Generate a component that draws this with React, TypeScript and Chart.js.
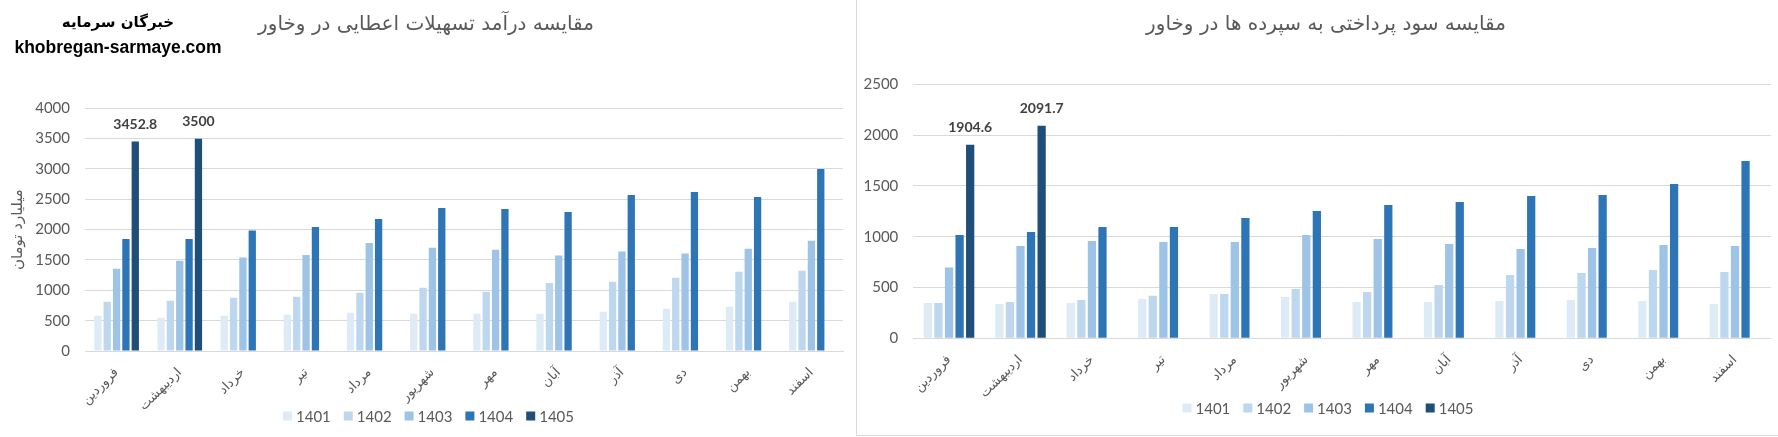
import { useEffect, useRef } from 'react';
import { Chart } from 'chart.js/auto';

const months = ['فروردین', 'اردیبهشت', 'خرداد', 'تیر', 'مرداد', 'شهریور', 'مهر', 'آبان', 'آذر', 'دی', 'بهمن', 'اسفند'];
const years = ['1401', '1402', '1403', '1404', '1405'];

// درآمد تسهیلات اعطایی (میلیارد تومان)
const loan1401 = [582, 550, 582, 599, 632, 615, 615, 615, 648, 698, 731, 813];
const loan1402 = [813, 830, 879, 896, 962, 1044, 978, 1121, 1143, 1209, 1308, 1324];
const loan1403 = [1357, 1489, 1539, 1583, 1780, 1703, 1670, 1572, 1638, 1605, 1687, 1819];
const loan1404 = [1846, 1846, 1984, 2044, 2176, 2357, 2341, 2291, 2572, 2621, 2539, 3000];
const loan1405 = [3452.8, 3500, null, null, null, null, null, null, null, null, null, null];

// سود پرداختی به سپرده ها
const dep1401 = [348, 338, 348, 387, 436, 407, 358, 358, 367, 377, 367, 338];
const dep1402 = [348, 358, 377, 420, 436, 486, 456, 525, 623, 643, 673, 653];
const dep1403 = [696, 909, 958, 948, 948, 1017, 978, 929, 879, 889, 919, 909];
const dep1404 = [1017, 1047, 1096, 1096, 1184, 1253, 1312, 1342, 1401, 1411, 1519, 1746];
const dep1405 = [1904.6, 2091.7, null, null, null, null, null, null, null, null, null, null];

const loanTicks = [0, 500, 1000, 1500, 2000, 2500, 3000, 3500, 4000];
const depTicks = [0, 500, 1000, 1500, 2000, 2500];

const yearColors = ['#DDEBF7', '#BDD7EE', '#9DC3E6', '#2E75B6', '#1F4E79'];
const gridColor = '#D9D9D9';
const textColor = '#595959';

// labels over the 1405 bars
const valueLabels = {
  id: 'valueLabels',
  afterDatasetsDraw(chart: any) {
    const { ctx } = chart;
    const last = chart.data.datasets.length - 1;
    const meta = chart.getDatasetMeta(last);
    const values = chart.data.datasets[last].data;
    ctx.save();
    ctx.font = 'bold 14px Lato';
    ctx.fillStyle = '#404040';
    ctx.textAlign = 'center';
    ctx.textBaseline = 'middle';
    meta.data.forEach((bar: any, i: number) => {
      const v = values[i];
      if (v == null) return;
      ctx.fillText(String(v), bar.x, bar.y - 17.5);
    });
    ctx.restore();
  },
};

// title and legend drawn at fixed spots, like the excel chart
const panelDecor = {
  id: 'panelDecor',
  afterDraw(chart: any, _args: any, opts: any) {
    const { ctx } = chart;
    ctx.save();
    ctx.fillStyle = textColor;
    ctx.font = '20px "DejaVu Sans"';
    ctx.textAlign = 'center';
    ctx.textBaseline = 'middle';
    ctx.fillText(opts.title, opts.titleX, opts.titleY);

    ctx.font = '15px Lato';
    const box = 9;
    const boxGap = 4;
    const itemGap = 13;
    const items = chart.data.datasets.map((ds: any) => ({
      text: ds.label,
      color: ds.backgroundColor,
      w: box + boxGap + ctx.measureText(ds.label).width,
    }));
    const total = items.reduce((s: number, it: any) => s + it.w, 0) + itemGap * (items.length - 1);
    let x = opts.legendX - total / 2;
    ctx.textAlign = 'left';
    items.forEach((it: any) => {
      ctx.fillStyle = it.color;
      ctx.fillRect(x, opts.legendY - box / 2, box, box);
      ctx.fillStyle = textColor;
      ctx.fillText(it.text, x + box + boxGap, opts.legendY + 1);
      x += it.w + itemGap;
    });
    ctx.restore();
  },
};

interface BarPanelProps {
  title: string;
  series: (number | null)[][];
  ticks: number[];
  yTitle?: string;
  areaLeft: number;
  areaRight: number;
  areaTop: number;
  areaBottom: number;
  titleX: number;
  legendX: number;
  legendY: number;
}

function BarPanel({ title, series, ticks, yTitle, areaLeft, areaRight, areaTop, areaBottom, titleX, legendX, legendY }: BarPanelProps) {
  const chartRef = useRef<HTMLCanvasElement>(null);
  const chartInstance = useRef<Chart | null>(null);

  useEffect(() => {
    if (!chartRef.current) return;
    if (chartInstance.current) chartInstance.current.destroy();
    const canvasH = chartRef.current.parentElement?.clientHeight || 437;

    chartInstance.current = new Chart(chartRef.current, {
      type: 'bar',
      data: {
        labels: months,
        datasets: years.map((year, i) => ({
          label: year,
          data: series[i],
          backgroundColor: yearColors[i],
          borderWidth: 0,
          barPercentage: 0.78,
          categoryPercentage: 0.74,
        })),
      },
      options: {
        responsive: true,
        maintainAspectRatio: false,
        animation: false,
        layout: { padding: { left: 0, right: areaRight, top: areaTop, bottom: 0 } },
        plugins: {
          title: { display: false },
          legend: { display: false },
          tooltip: { enabled: false },
          panelDecor: { title, titleX, titleY: 25, legendX, legendY },
        } as any,
        scales: {
          x: {
            grid: { display: false },
            border: { color: gridColor },
            ticks: {
              color: textColor,
              font: { family: 'DejaVu Sans', size: 13 },
              minRotation: 45,
              maxRotation: 45,
              autoSkip: false,
              padding: 6,
            },
            afterFit: (scale: any) => {
              scale.height = canvasH - areaBottom;
            },
          },
          y: {
            min: ticks[0],
            max: ticks[ticks.length - 1],
            afterBuildTicks: (scale: any) => {
              scale.ticks = ticks.map((v) => ({ value: v }));
            },
            grid: { color: gridColor, drawTicks: false },
            border: { display: false },
            ticks: {
              color: textColor,
              font: { family: 'Lato', size: 15 },
              padding: 15,
              callback: (v: any) => String(v),
            },
            title: {
              display: !!yTitle,
              text: yTitle || '',
              color: textColor,
              font: { family: 'DejaVu Sans', size: 15 },
              padding: { top: 9, bottom: 0 },
            },
            afterFit: (scale: any) => {
              scale.width = areaLeft;
            },
          },
        },
      },
      plugins: [valueLabels, panelDecor],
    });

    return () => {
      if (chartInstance.current) {
        chartInstance.current.destroy();
        chartInstance.current = null;
      }
    };
  }, [title, series, ticks, yTitle, areaLeft, areaRight, areaTop, areaBottom, titleX, legendX, legendY]);

  return <canvas ref={chartRef} />;
}

export default function App() {
  return (
    <div style={{ position: 'absolute', left: 0, top: 0, width: 1778, height: 437, background: '#fff', overflow: 'hidden' }}>
      <div style={{ position: 'absolute', left: 0, top: 0, width: 856, height: 437 }}>
        <BarPanel
          title="مقایسه درآمد تسهیلات اعطایی در وخاور"
          series={[loan1401, loan1402, loan1403, loan1404, loan1405]}
          ticks={loanTicks}
          yTitle="میلیارد تومان"
          areaLeft={85}
          areaRight={13}
          areaTop={108.3}
          areaBottom={351}
          titleX={426}
          legendX={428.5}
          legendY={416}
        />
      </div>
      <div style={{ position: 'absolute', left: 0, top: 0, width: 236, textAlign: 'center', color: '#000', fontWeight: 'bold' }}>
        <div style={{ position: 'absolute', left: 0, top: 12, width: 236, lineHeight: '20px', fontFamily: 'DejaVu Sans', fontSize: 15 }}>خبرگان سرمایه</div>
        <div style={{ position: 'absolute', left: 0, top: 37, width: 236, lineHeight: '20px', fontFamily: 'Liberation Sans', fontSize: 17.5 }}>khobregan-sarmaye.com</div>
      </div>
      <div style={{ position: 'absolute', left: 857, top: 0, width: 921, height: 437 }}>
        <BarPanel
          title="مقایسه سود پرداختی به سپرده ها در وخاور"
          series={[dep1401, dep1402, dep1403, dep1404, dep1405]}
          ticks={depTicks}
          areaLeft={56.3}
          areaRight={7.3}
          areaTop={84.3}
          areaBottom={338.3}
          titleX={469}
          legendX={471}
          legendY={408}
        />
      </div>
      <div style={{ position: 'absolute', left: 856, top: 0, width: 1, height: 436, background: gridColor }} />
      <div style={{ position: 'absolute', left: 856, top: 435, width: 922, height: 1, background: gridColor }} />
    </div>
  );
}
